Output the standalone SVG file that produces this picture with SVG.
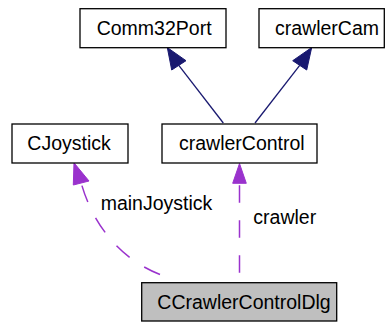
<svg xmlns="http://www.w3.org/2000/svg" width="386" height="322" viewBox="0 0 386 322">
<style>
.box{fill:#ffffff;stroke:#000000;stroke-width:1.3}
.grey{fill:#bfbfbf}
text{font-family:"Liberation Sans",Arial,sans-serif;font-size:19.5px;fill:#000000}
.inh{stroke:#191970;stroke-width:1.3;fill:none}
.inhh{fill:#191970;stroke:#191970;stroke-width:1}
.use{stroke:#9a32cd;stroke-width:1.5;fill:none;stroke-dasharray:17.5,17.5}
.useh{fill:#9a32cd;stroke:#9a32cd;stroke-width:1}
</style>
<rect width="386" height="322" fill="#ffffff"/>
<g id="edges">
<path class="inh" d="M223.3,123 L178.8,65.3"/>
<polygon class="inhh" points="167.3,47.5 171.7,70 186,60.7"/>
<path class="inh" d="M255,123 L299.7,65.3"/>
<polygon class="inhh" points="311.7,47.5 292.7,60.7 306.7,70"/>
<path class="use" d="M239.5,272.7 L239.5,183"/>
<polygon class="useh" points="239.5,163.5 232.7,183.3 246.3,183.3"/>
<path class="use" d="M160,274.5 C118,258 92,222 81.2,183"/>
<polygon class="useh" points="74,162.8 73.3,185 89,181"/>
<text x="100.7" y="210">mainJoystick</text>
<text x="253.3" y="224">crawler</text>
</g>
<g id="Comm32Port">
<rect class="box" x="80" y="8.7" width="146" height="39"/>
<text x="96.7" y="35">Comm32Port</text>
</g>
<g id="crawlerCam">
<rect class="box" x="259" y="8.7" width="125.3" height="39"/>
<text x="275" y="35">crawlerCam</text>
</g>
<g id="CJoystick">
<rect class="box" x="12" y="124" width="116" height="39"/>
<text x="27.3" y="150">CJoystick</text>
</g>
<g id="crawlerControl">
<rect class="box" x="162" y="124" width="155" height="39"/>
<text x="179" y="150">crawlerControl</text>
</g>
<g id="CCrawlerControlDlg">
<rect class="box grey" x="141.7" y="282.7" width="195" height="38.3"/>
<text x="157.3" y="308.5">CCrawlerControlDlg</text>
</g>
</svg>
